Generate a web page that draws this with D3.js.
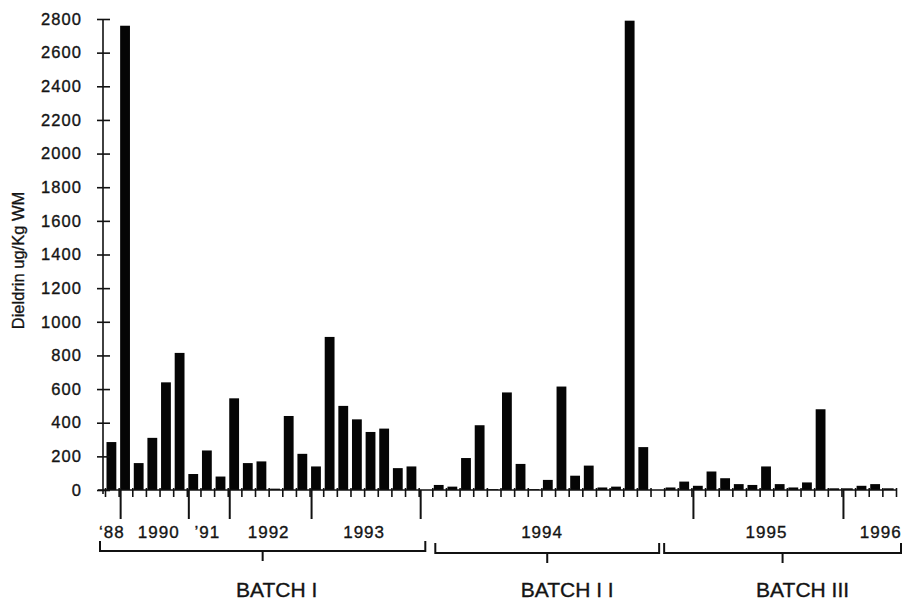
<!DOCTYPE html>
<html>
<head>
<meta charset="utf-8">
<script src="https://cdn.jsdelivr.net/npm/d3@7"></script>
<style>
  body { margin: 0; background: #fff; }
  svg text { font-family: "Liberation Sans", Arial, sans-serif; fill: #141414; stroke: #141414; stroke-width: 0.35; }
</style>
</head>
<body>
<svg id="chart" width="903" height="600"></svg>
<script>
// Dieldrin per sample, one value per slot along the x axis (ug/Kg WM)
const values = [
  285, 2760, 160, 310, 640, 815, 95, 235, 80, 545, 160, 170, 8, 440, 215,
  140, 910, 500, 420, 345, 365, 130, 140, 0,
  30, 20, 190, 385, 5, 580, 155, 5, 60, 615, 85, 145, 15, 20, 2790, 255, 0,
  15, 50, 25, 110, 70, 35, 30, 140, 35, 15, 45, 480, 10, 10, 25, 35, 10
];

const yTickValues = [0, 200, 400, 600, 800, 1000, 1200, 1400, 1600, 1800, 2000, 2200, 2400, 2600, 2800];

// year groups: label and first slot of the group
const yearLabels = ['\u201888', '1990', '\u201991', '1992', '1993', '1994', '1995', '1996'];
const yearStarts = [0, 1, 6, 9, 15, 23, 43, 54];

// batches: label and first slot
const batchLabels = ['BATCH I', 'BATCH I I', 'BATCH III'];
const batchStarts = [0, 24, 41];

const axisTitle = 'Dieldrin ug/Kg WM';

function render() {
  const svg = d3.select('#chart');
  const n = values.length;

  const x0 = 105;
  const x1 = 896;
  const yBase = 490;
  const yTop = 19;

  const x = d3.scaleLinear().domain([0, n]).range([x0, x1]);
  const y = d3.scaleLinear().domain([0, 2800]).range([yBase, yTop]);
  const step = x(1) - x(0);

  // Bars
  svg.append('g')
    .selectAll('rect')
    .data(values)
    .enter()
    .append('rect')
    .attr('x', (d, i) => x(i) + step * 0.11)
    .attr('width', step * 0.72)
    .attr('y', (d) => y(d))
    .attr('height', (d) => yBase - y(d))
    .attr('fill', '#050505');

  // Y axis, ticks cross the line
  const yAxis = svg.append('g')
    .attr('transform', `translate(103,0)`)
    .call(
      d3.axisLeft(y)
        .tickValues(yTickValues)
        .tickFormat(d3.format('d'))
        .tickSizeInner(6)
        .tickSizeOuter(0)
        .tickPadding(15)
    );
  yAxis.select('.domain').attr('stroke', '#111').attr('stroke-width', 1.6)
    .attr('d', `M0,${yTop}V${yBase + 4}`);
  yAxis.selectAll('.tick line').attr('x1', 7).attr('stroke', '#111').attr('stroke-width', 1.6);
  yAxis.selectAll('.tick text')
    .attr('font-size', 16.5)
    .attr('letter-spacing', 1.1)
    .attr('font-family', '"Liberation Sans", Arial, sans-serif')
    .attr('fill', '#141414');

  // X axis line with short ticks at every slot boundary
  const xAxis = svg.append('g')
    .attr('transform', `translate(0,${yBase})`)
    .call(
      d3.axisBottom(x)
        .tickValues(d3.range(n + 1))
        .tickSizeInner(7)
        .tickSizeOuter(0)
        .tickFormat('')
    );
  xAxis.select('.domain').attr('stroke', '#111').attr('stroke-width', 1.6)
    .attr('d', `M98,0H${x1}`);
  xAxis.selectAll('.tick line').attr('y1', -2).attr('stroke', '#111').attr('stroke-width', 1.6);

  // Year dividers (long ticks) and year labels
  svg.append('g')
    .selectAll('line')
    .data(yearStarts.slice(1))
    .enter()
    .append('line')
    .attr('x1', (d) => x(d) + 2)
    .attr('x2', (d) => x(d) + 2)
    .attr('y1', yBase)
    .attr('y2', yBase + 29)
    .attr('stroke', '#111')
    .attr('stroke-width', 2);

  const yearShift = { 1990: 6, 1994: -13, 1996: 12 };
  svg.append('g')
    .selectAll('text')
    .data(yearLabels)
    .enter()
    .append('text')
    .attr('x', (d, i) => {
      const end = i + 1 < yearStarts.length ? yearStarts[i + 1] : n;
      return (x(yearStarts[i]) + x(end)) / 2 + (yearShift[d] || 0);
    })
    .attr('y', 538)
    .attr('text-anchor', 'middle')
    .attr('font-size', 17)
    .attr('letter-spacing', 1)
    .text((d) => d);

  // Batch brackets
  const bracketPad = [[-5, -7], [3, -5], [0, 5]];
  const bracketY = [551, 553, 553];
  const brackets = batchLabels.map((label, i) => {
    const end = i + 1 < batchStarts.length ? batchStarts[i + 1] : n;
    const a = x(batchStarts[i]) + bracketPad[i][0];
    const b = x(end) + bracketPad[i][1];
    return { label, a, b, yy: bracketY[i] };
  });

  const bg = svg.append('g')
    .attr('fill', 'none')
    .attr('stroke', '#111')
    .attr('stroke-width', 2);

  bg.selectAll('path')
    .data(brackets)
    .enter()
    .append('path')
    .attr('d', (d) => {
      const mid = (d.a + d.b) / 2;
      return `M${d.a},${d.yy - 10}V${d.yy}H${d.b}V${d.yy - 10}` +
        `M${mid},${d.yy}V${d.yy + 10}`;
    });

  svg.append('g')
    .selectAll('text')
    .data(brackets)
    .enter()
    .append('text')
    .attr('x', (d, i) => (d.a + d.b) / 2 + (i === 0 ? 14 : 20))
    .attr('y', 597)
    .attr('text-anchor', 'middle')
    .attr('font-size', 21)
    .text((d) => d.label);

  // Axis title
  svg.append('text')
    .attr('transform', `translate(24,${(y(1000) + y(1800)) / 2 + 6}) rotate(-90)`)
    .attr('text-anchor', 'middle')
    .attr('font-size', 16.5)
    .text(axisTitle);
}

render();
</script>
</body>
</html>
